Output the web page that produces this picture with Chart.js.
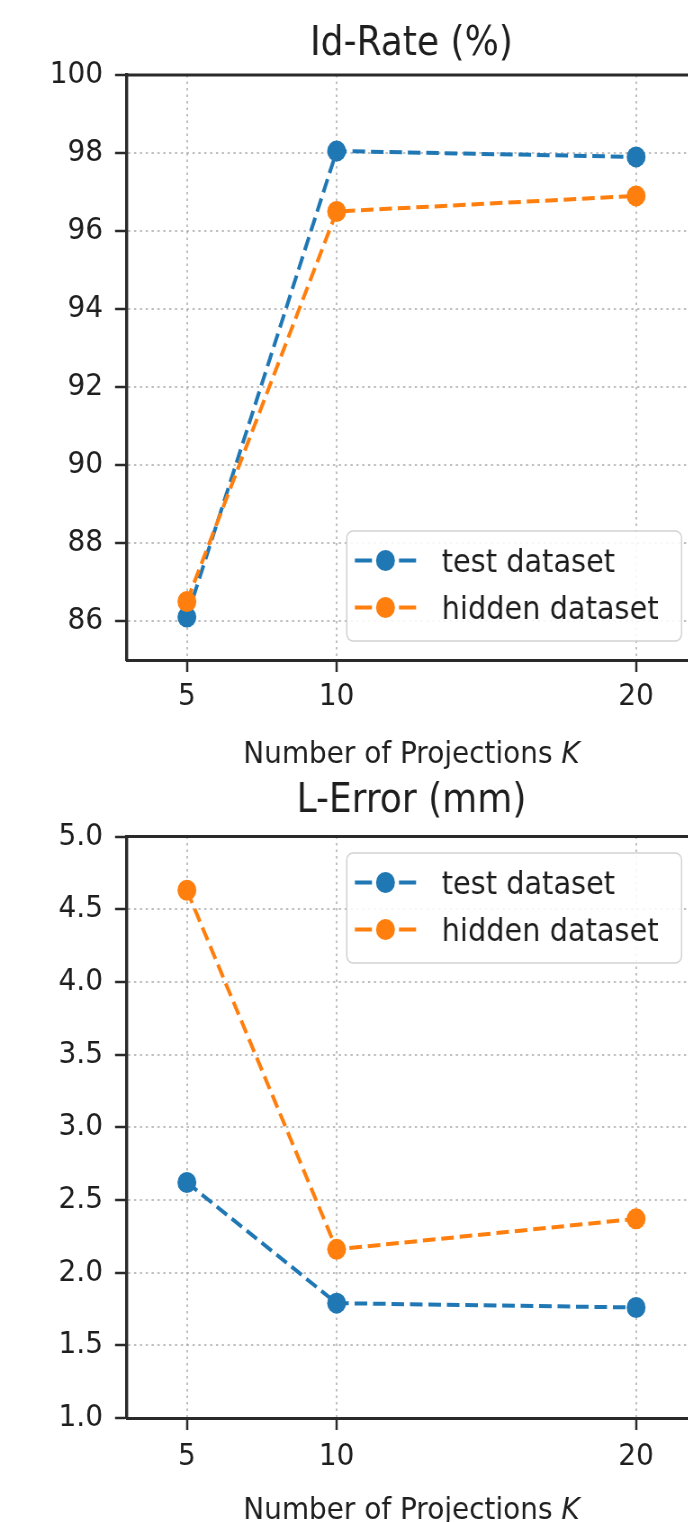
<!DOCTYPE html>
<html lang="en">
<head>
<meta charset="UTF-8">
<title>Id-Rate and L-Error vs number of projections</title>
<script src="https://cdn.jsdelivr.net/npm/chart.js"></script>
<style>
  html, body { margin: 0; padding: 0; background: #fff; overflow: hidden; }
  body { width: 688px; height: 1522px; position: relative; }
  /* the source figure is a bit squeezed sideways, so draw wide and squeeze */
  .squash { position: absolute; left: 0; top: 0; width: 790px; height: 1522px;
            transform: scaleX(0.9); transform-origin: 0 0; filter: blur(0.6px); }
  canvas { position: absolute; left: 0; }
  #rateChart { top: 0; }
  #errChart { top: 770px; }
</style>
</head>
<body>
<div class="squash">
  <canvas id="rateChart" width="790" height="775"></canvas>
  <canvas id="errChart" width="790" height="752"></canvas>
</div>
<script>
// data
const projections = [5, 10, 20];
const xTicks = [5, 10, 20];
const seriesNames = ['test dataset', 'hidden dataset'];
const seriesColors = ['#1f77b4', '#ff7f0e'];

const idRateTest = [86.1, 98.05, 97.9];
const idRateHidden = [86.5, 96.5, 96.9];
const idRateTicks = [86, 88, 90, 92, 94, 96, 98, 100];

const lErrorTest = [2.62, 1.79, 1.76];
const lErrorHidden = [4.63, 2.16, 2.37];
const lErrorTicks = [1.0, 1.5, 2.0, 2.5, 3.0, 3.5, 4.0, 4.5, 5.0];

const FONT = 'DejaVu Sans';
const textColor = '#1e1e1e';
const axisColor = '#2a2a2a';
const gridColor = 'rgba(170,170,170,0.75)';

function points(ys) {
    return projections.map((x, i) => ({ x: x, y: ys[i] }));
}

function makeDataset(i, ys) {
    return {
        label: seriesNames[i],
        data: points(ys),
        borderColor: seriesColors[i],
        backgroundColor: seriesColors[i],
        borderWidth: 4,
        borderDash: [14, 6.5],
        pointRadius: 10.5,
        pointBorderWidth: 0,
        pointBackgroundColor: seriesColors[i],
        tension: 0,
        order: i === 0 ? 1 : 0
    };
}

// titles, top/right frame and the legend box
const decor = {
    id: 'decor',
    afterDatasetsDraw(chart, args, opts) {
        const ctx = chart.ctx;
        const a = chart.chartArea;
        const cx = (a.left + a.right) / 2;
        ctx.save();

        ctx.strokeStyle = axisColor;
        ctx.lineWidth = 3;
        ctx.beginPath();
        ctx.moveTo(a.left - 1.5, a.top);
        ctx.lineTo(a.right, a.top);
        ctx.lineTo(a.right, a.bottom);
        ctx.stroke();

        ctx.fillStyle = textColor;
        ctx.textAlign = 'center';
        ctx.textBaseline = 'alphabetic';
        ctx.font = '40px "' + FONT + '"';
        ctx.fillText(opts.title, cx, opts.titleBaseline);

        // x label with an italic K
        const head = 'Number of Projections ';
        ctx.font = '31px "' + FONT + '"';
        const w1 = ctx.measureText(head).width;
        ctx.font = 'italic 31px "' + FONT + '"';
        const w2 = ctx.measureText('K').width;
        let x0 = cx - (w1 + w2) / 2;
        ctx.textAlign = 'left';
        ctx.font = '31px "' + FONT + '"';
        ctx.fillText(head, x0, opts.xlabelBaseline);
        ctx.font = 'italic 31px "' + FONT + '"';
        ctx.fillText('K', x0 + w1, opts.xlabelBaseline);

        // legend
        const boxW = 372, boxH = 110;
        const left = a.right - 16 - boxW;
        const top = opts.legendAt === 'lower' ? a.bottom - 19 - boxH : a.top + 16.5;
        ctx.beginPath();
        ctx.roundRect(left, top, boxW, boxH, 7);
        ctx.fillStyle = 'rgba(255,255,255,0.88)';
        ctx.fill();
        ctx.strokeStyle = '#d2d2d2';
        ctx.lineWidth = 1.5;
        ctx.stroke();

        const rows = [29.5, 76.5];
        chart.data.datasets.forEach((ds, i) => {
            const y = top + rows[i];
            ctx.strokeStyle = ds.borderColor;
            ctx.lineWidth = 4;
            ctx.beginPath();
            ctx.moveTo(left + 9, y); ctx.lineTo(left + 28, y);
            ctx.moveTo(left + 58, y); ctx.lineTo(left + 77, y);
            ctx.stroke();
            ctx.fillStyle = ds.borderColor;
            ctx.beginPath();
            ctx.arc(left + 43, y, 10.5, 0, Math.PI * 2);
            ctx.fill();
            ctx.fillStyle = textColor;
            ctx.font = '32px "' + FONT + '"';
            ctx.textAlign = 'left';
            ctx.fillText(ds.label, left + 105.5, y + 11);
        });
        ctx.restore();
    }
};

function makeChart(id, cfg) {
    return new Chart(document.getElementById(id), {
        type: 'line',
        data: {
            datasets: [makeDataset(0, cfg.test), makeDataset(1, cfg.hidden)]
        },
        options: {
            responsive: false,
            animation: false,
            devicePixelRatio: 1,
            events: [],
            layout: { padding: { top: cfg.top, left: 0, right: 16.7, bottom: 0 } },
            scales: {
                x: {
                    type: 'linear',
                    min: 3,
                    max: 22,
                    afterBuildTicks: ax => { ax.ticks = xTicks.map(v => ({ value: v })); },
                    afterFit: s => { s.height = cfg.xAxisH; },
                    grid: { color: gridColor, lineWidth: 2, tickLength: 12, tickColor: axisColor, tickWidth: 2.5 },
                    border: { display: true, color: axisColor, width: 3, dash: [2.5, 4] },
                    ticks: { font: { family: FONT, size: 31 }, color: textColor, padding: cfg.xPad,
                             maxRotation: 0, autoSkip: false, callback: v => String(v) }
                },
                y: {
                    type: 'linear',
                    min: cfg.min,
                    max: cfg.max,
                    afterBuildTicks: ax => { ax.ticks = cfg.ticks.map(v => ({ value: v })); },
                    afterFit: s => { s.width = 141.1; },
                    grid: { color: gridColor, lineWidth: 2, tickLength: 13.3, tickColor: axisColor, tickWidth: 2.5 },
                    border: { display: true, color: axisColor, width: 3.4, dash: [2.5, 4] },
                    ticks: { font: { family: FONT, size: 31 }, color: textColor, padding: 13.4,
                             autoSkip: false, callback: cfg.fmt }
                }
            },
            plugins: {
                legend: { display: false },
                tooltip: { enabled: false },
                decor: {
                    title: cfg.title,
                    titleBaseline: cfg.titleBaseline,
                    xlabelBaseline: cfg.xlabelBaseline,
                    legendAt: cfg.legendAt
                }
            }
        },
        plugins: [decor]
    });
}

makeChart('rateChart', {
    test: idRateTest, hidden: idRateHidden, ticks: idRateTicks,
    min: 85, max: 100, fmt: v => String(v),
    top: 75, xAxisH: 115, xPad: 6,
    title: 'Id-Rate (%)', titleBaseline: 55, xlabelBaseline: 763, legendAt: 'lower'
});

makeChart('errChart', {
    test: lErrorTest, hidden: lErrorHidden, ticks: lErrorTicks,
    min: 1, max: 5, fmt: v => v.toFixed(1),
    top: 66.5, xAxisH: 104, xPad: 8,
    title: 'L-Error (mm)', titleBaseline: 41.7, xlabelBaseline: 748.7, legendAt: 'upper'
});
</script>
</body>
</html>
